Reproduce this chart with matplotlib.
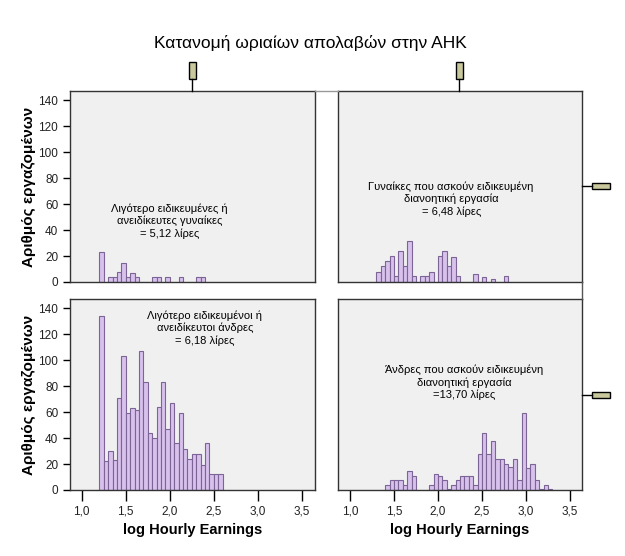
import matplotlib
matplotlib.use("Agg")
import matplotlib.pyplot as plt
from matplotlib.patches import Rectangle
from matplotlib.lines import Line2D

plt.rcParams['font.family'] = ['Liberation Sans', 'DejaVu Sans']

W, H = 625, 556

# histogram data: left edge of each 0.05-wide bin and its count
tl_bins = [1.20, 1.30, 1.35, 1.40, 1.45, 1.50, 1.55, 1.60, 1.80, 1.85, 1.95, 2.10, 2.30, 2.35]
tl_counts = [23, 4, 4, 8, 15, 4, 7, 4, 4, 4, 4, 4, 4, 4]

tr_bins = [1.30, 1.35, 1.40, 1.45, 1.50, 1.55, 1.60, 1.65, 1.70, 1.80, 1.85, 1.90,
           2.00, 2.05, 2.10, 2.15, 2.20, 2.40, 2.50, 2.60, 2.75]
tr_counts = [8, 12, 16, 20, 5, 24, 12, 32, 5, 5, 5, 8, 20, 24, 12, 19, 5, 6, 4, 2, 5]

bl_bins = [1.20, 1.25, 1.30, 1.35, 1.40, 1.45, 1.50, 1.55, 1.60, 1.65, 1.70, 1.75, 1.80, 1.85,
           1.90, 1.95, 2.00, 2.05, 2.10, 2.15, 2.20, 2.25, 2.30, 2.35, 2.40, 2.45, 2.50, 2.55]
bl_counts = [134, 22, 30, 23, 71, 103, 59, 63, 62, 107, 83, 44, 40, 64,
             83, 47, 67, 36, 59, 32, 24, 28, 28, 19, 36, 12, 12, 12]

br_bins = [1.40, 1.45, 1.50, 1.55, 1.60, 1.65, 1.70, 1.90, 1.95, 2.00, 2.05, 2.10, 2.15, 2.20,
           2.25, 2.30, 2.35, 2.40, 2.45, 2.50, 2.55, 2.60, 2.65, 2.70, 2.75, 2.80, 2.85, 2.90,
           2.95, 3.00, 3.05, 3.10, 3.15, 3.20, 3.25]
br_counts = [4, 8, 8, 8, 4, 15, 11, 4, 12, 11, 8, 1, 4, 8,
             11, 11, 11, 4, 28, 44, 28, 38, 24, 24, 20, 18, 24, 8,
             59, 17, 20, 8, 1, 4, 1]

labels = [
    "Λιγότερο ειδικευμένες ή\nανειδίκευτες γυναίκες\n= 5,12 λίρες",
    "Γυναίκες που ασκούν ειδικευμένη\nδιανοητική εργασία\n= 6,48 λίρες",
    "Λιγότερο ειδικευμένοι ή\nανειδίκευτοι άνδρες\n= 6,18 λίρες",
    "Άνδρες που ασκούν ειδικευμένη\nδιανοητική εργασία\n=13,70 λίρες",
]
# label centre in data coords (x, y)
label_pos = [(2.0, 47), (2.15, 64), (2.4, 125), (2.3, 83)]

x_ticks = [1.0, 1.5, 2.0, 2.5, 3.0, 3.5]
x_ticklabels = ["1,0", "1,5", "2,0", "2,5", "3,0", "3,5"]
y_ticks = [0, 20, 40, 60, 80, 100, 120, 140]

fill = "#d8c2ec"
edge = "#7c6496"
panel_bg = "#f0f0f0"


def fx(px):
    return px / W


def fy(py):
    return 1 - py / H


fig = plt.figure(figsize=(W / 100, H / 100), dpi=100)

# panel boxes in pixels: (left, top, right, bottom)
boxes = [(70, 91, 315, 282), (338, 91, 582, 282), (70, 299, 315, 490), (338, 299, 582, 490)]
xlims = [(0.867, 3.651), (0.864, 3.637), (0.867, 3.651), (0.864, 3.637)]
data = [(tl_bins, tl_counts), (tr_bins, tr_counts), (bl_bins, bl_counts), (br_bins, br_counts)]

for i, (l, t, r, b) in enumerate(boxes):
    ax = fig.add_axes([fx(l), fy(b), (r - l) / W, (b - t) / H])
    ax.set_facecolor(panel_bg)
    bins, counts = data[i]
    ax.bar(bins, counts, width=0.05, align='edge', color=fill, edgecolor=edge, linewidth=0.8)
    ax.set_xlim(*xlims[i])
    ax.set_ylim(0, 147.3)
    for s in ax.spines.values():
        s.set_color("#333333")
        s.set_linewidth(1.0)
    ax.tick_params(direction='out', length=5, width=1, color="black", labelsize=8.5,
                   labelcolor="#222222")
    if i % 2 == 0:
        ax.set_yticks(y_ticks)
        ax.set_ylabel("Αριθμός εργαζομένων", fontsize=11, fontweight='bold', labelpad=2)
    else:
        ax.set_yticks([])
    if i >= 2:
        ax.set_xticks(x_ticks)
        ax.set_xticklabels(x_ticklabels)
        ax.tick_params(axis='x', length=8, pad=3)
        ax.set_xlabel("log Hourly Earnings", fontsize=10.5, fontweight='bold', labelpad=4)
    else:
        ax.set_xticks([])
    ax.text(label_pos[i][0], label_pos[i][1], labels[i], ha='center', va='center',
            fontsize=8, linespacing=1.25)

# title
fig.text(fx(310), fy(43), "Κατανομή ωριαίων απολαβών στην ΑΗΚ", ha='center', va='center', fontsize=12.5)

# connecting frame lines across gaps
fig.add_artist(Line2D([fx(315), fx(338)], [fy(91), fy(91)], color="#999999", lw=1))
fig.add_artist(Line2D([fx(582), fx(582)], [fy(282), fy(299)], color="#555555", lw=1))

# strip markers above columns
marker_fill = "#c9c79c"
for cx in [192, 459]:
    fig.add_artist(Line2D([fx(cx), fx(cx)], [fy(79), fy(91)], color="black", lw=1))
    fig.add_artist(Rectangle((fx(cx - 3.5), fy(79)), 7 / W, 17 / H, facecolor=marker_fill,
                             edgecolor="black", lw=1))
# strip markers to the right of rows
for cy in [186, 395]:
    fig.add_artist(Line2D([fx(582), fx(592)], [fy(cy), fy(cy)], color="black", lw=1))
    fig.add_artist(Rectangle((fx(592), fy(cy + 3)), 18 / W, 6 / H, facecolor=marker_fill,
                             edgecolor="black", lw=1))

fig.savefig("out.png", dpi=100)
